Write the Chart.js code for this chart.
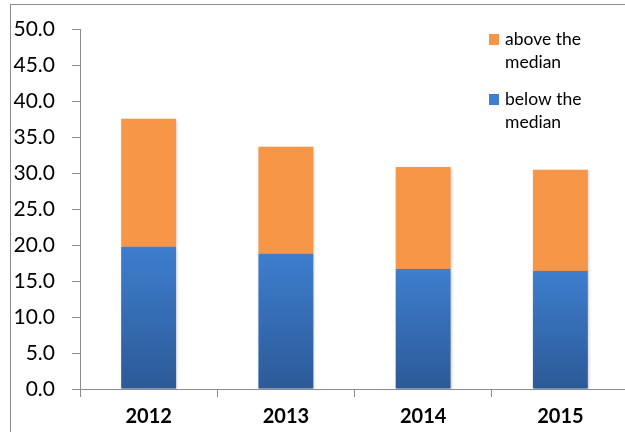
<!DOCTYPE html>
<html>
<head>
<meta charset="utf-8">
<script src="https://cdn.jsdelivr.net/npm/chart.js@4.4.1/dist/chart.umd.min.js"></script>
<style>
  html, body { margin: 0; padding: 0; background: #fff; overflow: hidden; }
  #frame { position: absolute; left: 10px; top: 4px; width: 700px; height: 500px;
           border-left: 1px solid #8c8c8c; border-top: 1px solid #8c8c8c; }
  #wrap { position: absolute; left: 0; top: 0; width: 629px; height: 432px; }
</style>
</head>
<body>
<div id="frame"></div>
<div id="wrap"><canvas id="c"></canvas></div>
<script>
// Years shown along the bottom axis
const years = ['2012', '2013', '2014', '2015'];
// Share of values below and above the median, per year
const belowMedian = [19.8, 18.8, 16.7, 16.4];
const aboveMedian = [17.8, 14.9, 14.2, 14.1];
// Series names
const seriesNames = ['below the median', 'above the median'];
// Y axis range
const yMin = 0, yMax = 50, yStep = 5;

const orange = '#F79646';
const blueTop = '#3E7ECE';
const blueBottom = '#2C5A97';

function blueFill(ctx) {
  const chart = ctx.chart;
  const area = chart.chartArea;
  if (!area || ctx.type !== 'data') return blueTop;
  const yScale = chart.scales.y;
  const top = yScale.getPixelForValue(ctx.raw);
  const g = chart.ctx.createLinearGradient(0, top, 0, area.bottom);
  g.addColorStop(0, blueTop);
  g.addColorStop(1, blueBottom);
  return g;
}

// Two-line legend drawn at the upper right
const wrappedLegend = {
  id: 'wrappedLegend',
  afterDraw(chart) {
    const c = chart.ctx;
    const items = [
      { ds: chart.data.datasets[1], color: orange, y: 34 },
      { ds: chart.data.datasets[0], color: blueTop, y: 94 }
    ];
    c.save();
    c.font = '17.5px Lato';
    c.textBaseline = 'middle';
    c.textAlign = 'left';
    items.forEach(it => {
      c.fillStyle = it.color;
      c.fillRect(489, it.y, 10, 11);
      c.fillStyle = '#000';
      const words = it.ds.label.split(' ');
      const line1 = words.slice(0, 2).join(' ');
      const line2 = words.slice(2).join(' ');
      c.fillText(line1, 505, it.y + 5);
      c.fillText(line2, 505, it.y + 28);
    });
    c.restore();
  }
};

// Soft drop shadow under the bars
const barShadow = {
  id: 'barShadow',
  beforeDatasetsDraw(chart) {
    const c = chart.ctx;
    c.save();
    c.shadowColor = 'rgba(0,0,0,0.25)';
    c.shadowBlur = 3;
    c.shadowOffsetX = 1;
    c.shadowOffsetY = 1;
  },
  afterDatasetsDraw(chart) {
    chart.ctx.restore();
  }
};

new Chart(document.getElementById('c'), {
  type: 'bar',
  data: {
    labels: years,
    datasets: [
      { label: seriesNames[0], data: belowMedian, backgroundColor: blueFill, borderWidth: 0 },
      { label: seriesNames[1], data: aboveMedian, backgroundColor: orange, borderWidth: 0 }
    ]
  },
  options: {
    responsive: true,
    maintainAspectRatio: false,
    animation: false,
    layout: { padding: { top: 27, left: 0, right: 0, bottom: 0 } },
    plugins: { legend: { display: false }, tooltip: { enabled: false } },
    datasets: { bar: { barPercentage: 0.4, categoryPercentage: 1.0 } },
    scales: {
      x: {
        stacked: true,
        grid: { offset: true, drawOnChartArea: false, drawTicks: true, tickLength: 8, color: '#8c8c8c' },
        border: { color: '#8c8c8c', width: 1 },
        ticks: { color: '#000', font: { family: 'Lato', size: 20, weight: 'bold' }, padding: 8 },
        afterFit(scale) { scale.height = 43; }
      },
      y: {
        stacked: true,
        min: yMin, max: yMax,
        grid: { drawOnChartArea: false, drawTicks: true, tickLength: 8, color: '#8c8c8c' },
        border: { color: '#8c8c8c', width: 1 },
        ticks: {
          stepSize: yStep,
          color: '#000',
          font: { family: 'Lato', size: 21 },
          padding: 17,
          callback: v => Number(v).toFixed(1)
        },
        afterFit(scale) { scale.width = 80; }
      }
    }
  },
  plugins: [barShadow, wrappedLegend]
});
</script>
</body>
</html>
